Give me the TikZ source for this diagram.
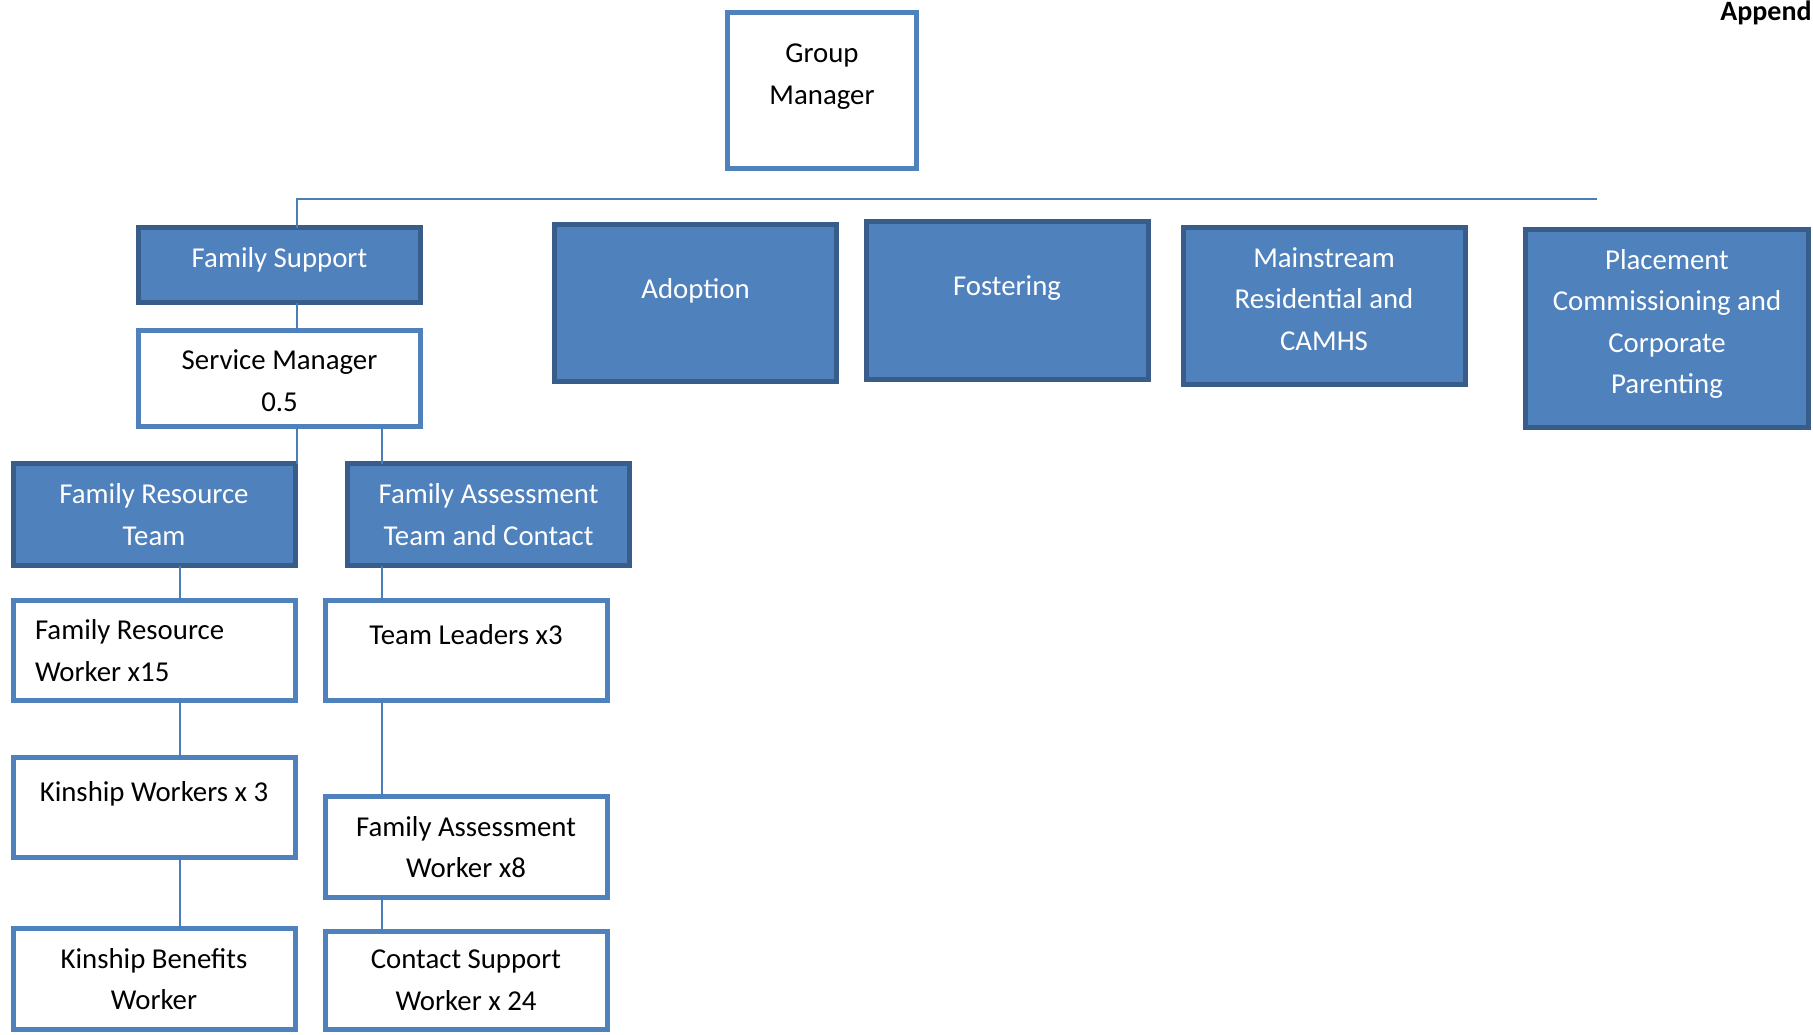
\documentclass[tikz,border=0pt]{standalone}
\usepackage{fontspec}
\setmainfont{Carlito}
\usepackage{tikz}
\usepackage{tkz-graph}
\definecolor{boxBlue}{HTML}{4F81BD}
\definecolor{boxEdge}{HTML}{385D8A}
\definecolor{lineBlue}{HTML}{4A7EBB}
\tikzset{
	every unit/.style={
		fill=boxBlue,
		draw=boxEdge,
		text=white,
		minimum width=141pt,
		align=center
	},
	every post/.style={
		fill=white,
		draw=boxBlue,
		text=black,
		minimum width=141pt,
		align=center
	},
	lift/.style={text depth=#1},
}

\begin{document}
\begin{tikzpicture}[x=0.5pt,y=-0.5pt]
\tikzset{VertexStyle/.style = {shape=rectangle, line width=2.5pt, inner sep=0pt, font=\fontsize{14.4}{20.8}\selectfont}}
\tikzset{EdgeStyle/.style = {draw=lineBlue, line width=0.9pt}}
\useasboundingbox (0,0) rectangle (1813,1034);

\node[anchor=base west, inner sep=0pt, font=\fontsize{14}{17}\selectfont\bfseries] (appendix) at (1720,20) {Append};

\Vertex[x=822,y=90,style={every post, minimum width=94.5pt, minimum height=78pt, lift=16pt},L={Group\\Manager}]{groupManager}
	\Vertex[x=279.5,y=265,style={every unit, minimum height=37.5pt, lift=8pt},L={Family Support}]{familySupport}
		\Vertex[x=279.5,y=378.5,style={every post, minimum height=48pt, text height=33pt},L={Service Manager\\0.5}]{serviceManager}
			\Vertex[x=154,y=514.5,style={every unit, minimum height=51pt},L={Family Resource\\Team}]{resourceTeam}
				\Vertex[x=154,y=650.5,style={every post, minimum height=50pt, text width=119pt, align=flush left},L={Family Resource\\Worker x15}]{resourceWorker}
				\Vertex[x=154,y=807.5,style={every post, minimum height=50pt, lift=16pt},L={Kinship Workers x 3}]{kinshipWorkers}
				\Vertex[x=154,y=979,style={every post, minimum height=50.5pt},L={Kinship Benefits\\Worker}]{kinshipBenefits}
			\Vertex[x=488.5,y=514.5,style={every unit, minimum height=51pt},L={Family Assessment\\Team and Contact}]{assessTeam}
				\Vertex[x=466,y=650.5,style={every post, minimum height=50pt, lift=16pt},L={Team Leaders x3}]{teamLeaders}
				\Vertex[x=466,y=847,style={every post, minimum height=50.5pt},L={Family Assessment\\Worker x8}]{assessWorker}
				\Vertex[x=466,y=980.5,style={every post, minimum height=49pt},L={Contact Support\\Worker x 24}]{contactSupport}
	\Vertex[x=695.5,y=303,style={every unit, minimum height=78.5pt, lift=15pt},L={Adoption}]{adoption}
	\Vertex[x=1007,y=300.5,style={every unit, minimum height=79pt, lift=15pt},L={Fostering}]{fostering}
	\Vertex[x=1324,y=306,style={every unit, minimum height=78.5pt, lift=7pt},L={Mainstream\\Residential and\\CAMHS}]{mainstream}
	\Vertex[x=1667,y=328.5,style={every unit, minimum width=141.5pt, minimum height=99pt, lift=7pt},L={Placement\\Commissioning and\\Corporate\\Parenting}]{placement}

\coordinate (barEnd) at (1597,199);
\coordinate (spine) at (297,0);
\coordinate (resourceLine) at (180,0);
\coordinate (assessLine) at (382,0);

\draw[EdgeStyle] (barEnd) -| (familySupport.north -| spine);
\draw[EdgeStyle] (familySupport.south -| spine) -- (serviceManager.north -| spine);
\draw[EdgeStyle] (serviceManager.south -| spine) -- (resourceTeam.north -| spine);
\draw[EdgeStyle] (serviceManager.south -| assessLine) -- (assessTeam.north -| assessLine);
\draw[EdgeStyle] (resourceTeam.south -| resourceLine) -- (resourceWorker.north -| resourceLine);
\draw[EdgeStyle] (resourceWorker.south -| resourceLine) -- (kinshipWorkers.north -| resourceLine);
\draw[EdgeStyle] (kinshipWorkers.south -| resourceLine) -- (kinshipBenefits.north -| resourceLine);
\draw[EdgeStyle] (assessTeam.south -| assessLine) -- (teamLeaders.north -| assessLine);
\draw[EdgeStyle] (teamLeaders.south -| assessLine) -- (assessWorker.north -| assessLine);
\draw[EdgeStyle] (assessWorker.south -| assessLine) -- (contactSupport.north -| assessLine);
\end{tikzpicture}
\end{document}
